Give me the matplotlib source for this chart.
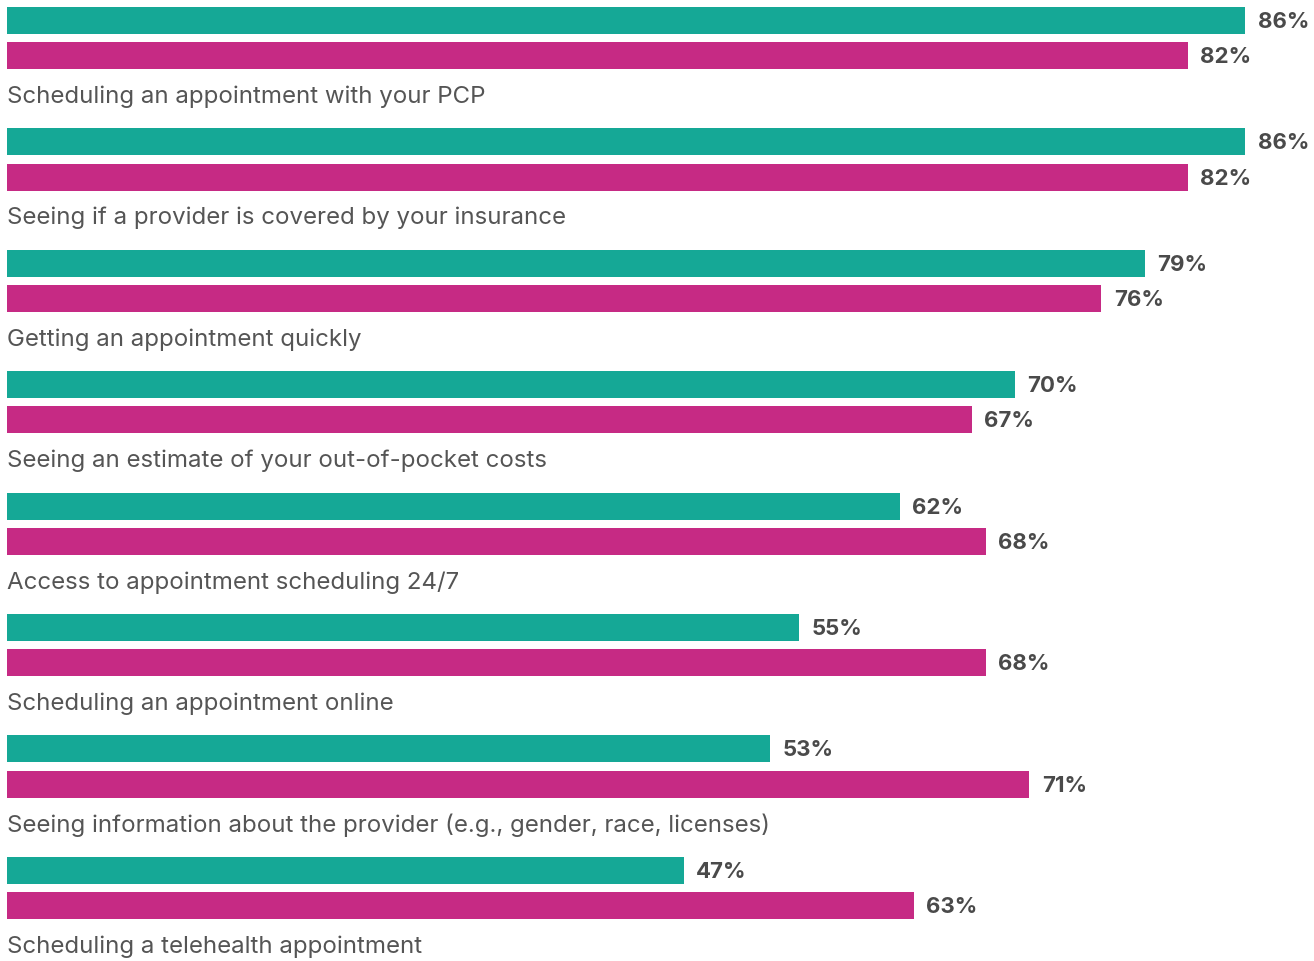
import matplotlib.pyplot as plt
import numpy as np

categories = [
    'Scheduling an appointment with your PCP',
    'Seeing if a provider is covered by your insurance',
    'Getting an appointment quickly',
    'Seeing an estimate of your out-of-pocket costs',
    'Access to appointment scheduling 24/7',
    'Scheduling an appointment online',
    'Seeing information about the provider (e.g., gender, race, licenses)',
    'Scheduling a telehealth appointment',
]
series_a = [86, 86, 79, 70, 62, 55, 53, 47]
series_b = [82, 82, 76, 67, 68, 68, 71, 63]

teal = '#15a896'
magenta = '#c62a84'
text_gray = '#555555'
value_gray = '#4a4a4a'

plt.rcParams['font.family'] = ['Inter', 'DejaVu Sans']

fig = plt.figure(figsize=(13.14, 9.61), dpi=100)
ax = fig.add_axes([0, 0, 1, 1])

pos = np.arange(len(categories))
h = 0.222
y_a = pos
y_b = pos + 0.29

ax.barh(y_a, series_a, height=h, color=teal, left=0)
ax.barh(y_b, series_b, height=h, color=magenta, left=0)

for i in range(len(categories)):
    ax.text(series_a[i] + 0.85, y_a[i] + 0.012, f'{series_a[i]}%', va='center', ha='left',
            fontsize=16, fontweight='bold', color=value_gray)
    ax.text(series_b[i] + 0.85, y_b[i] + 0.012, f'{series_b[i]}%', va='center', ha='left',
            fontsize=16, fontweight='bold', color=value_gray)
    ax.text(0, pos[i] + 0.628, categories[i], va='center', ha='left',
            fontsize=17.3, color=text_gray)

ax.set_xlim(-7 / 14.4, 1307 / 14.4)
ax.set_ylim(7.747, -0.169)
ax.axis('off')

fig.savefig('out.png', dpi=100)
